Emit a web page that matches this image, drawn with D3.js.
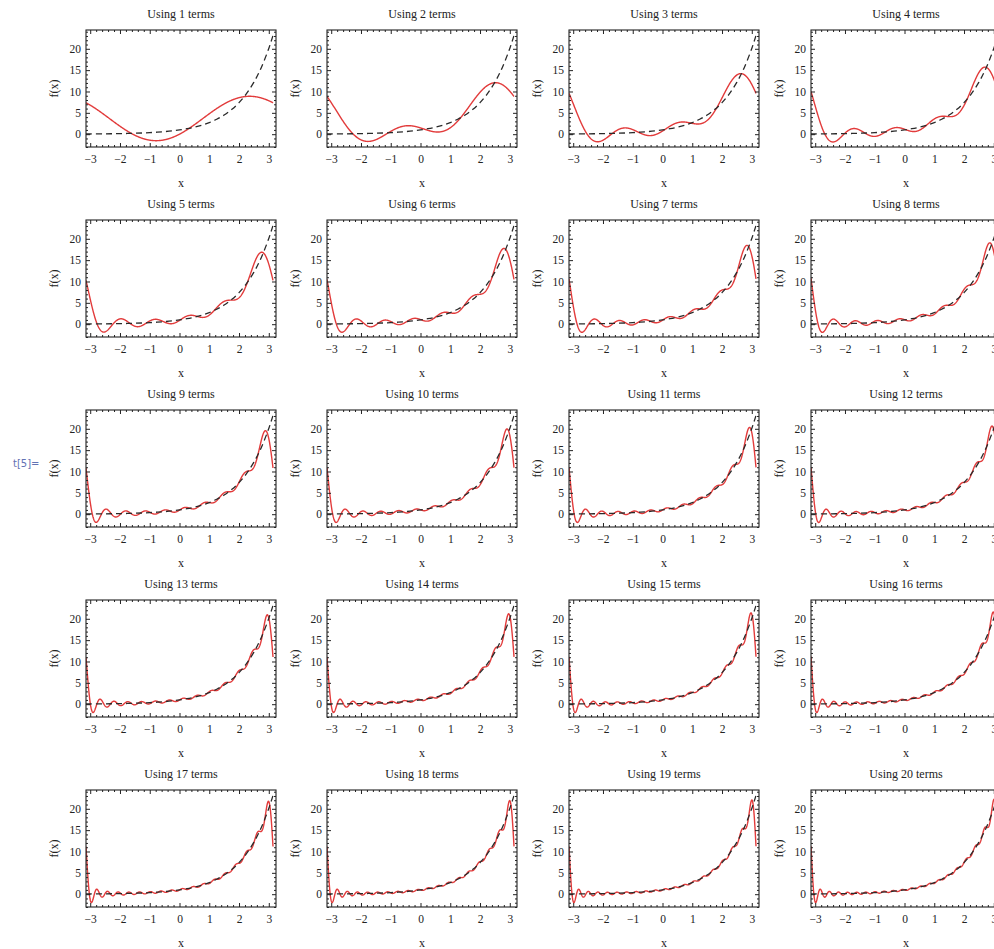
<!DOCTYPE html>
<html><head><meta charset="utf-8">
<script src="https://cdn.jsdelivr.net/npm/d3@7"></script>
<style>body{margin:0;background:#fff;overflow:hidden}</style>
</head><body>
<svg id="c" width="994" height="949"></svg>
<script>
// ---- data ----
const termCounts = [1,2,3,4,5,6,7,8,9,10,11,12,13,14,15,16,17,18,19,20];
// Fourier coefficients of the series (constant term, cosine a_n, sine b_n for n = 1..20)
const constTerm = 3.676078;
const cosCoef = [-3.676078, 1.470431, -0.735216, 0.432480, -0.282775, 0.198707, -0.147043, 0.113110,
  -0.089661, 0.072794, -0.060264, 0.050705, -0.043248, 0.037321, -0.032532, 0.028608,
  -0.025352, 0.022622, -0.020310, 0.018335];
const sinCoef = [3.676078, -2.940862, 2.205647, -1.729919, 1.413876, -1.192242, 1.029302, -0.904880,
  0.806949, -0.727936, 0.662903, -0.608460, 0.562224, -0.522494, 0.487980, -0.457728,
  0.430984, -0.407196, 0.385890, -0.366700];
// target function (dashed curve) sampled values
const targetX = [-3.1416,-3.0,-2.75,-2.5,-2.25,-2.0,-1.75,-1.5,-1.25,-1.0,-0.75,-0.5,-0.25,0,
  0.25,0.5,0.75,1.0,1.25,1.5,1.75,2.0,2.25,2.5,2.75,3.0,3.1416];
const targetY = [0.0432,0.0498,0.0639,0.0821,0.1054,0.1353,0.1738,0.2231,0.2865,0.3679,0.4724,0.6065,0.7788,1.0,
  1.2840,1.6487,2.1170,2.7183,3.4903,4.4817,5.7546,7.3891,9.4877,12.1825,15.6426,20.0855,23.1407];
const xTicks = [-3,-2,-1,0,1,2,3];
const yTicks = [0,5,10,15,20];
const xDomain = [-Math.PI, Math.PI];
const yDomain = [-3, 24.4];

// ---- layout ----
const colLeft = [86, 327, 569, 811];
const rowTop = [30, 220, 410, 600, 790];
const W = 190, H = 117, XR = 187;
const serif = "'Liberation Serif','Times New Roman',serif";
const svg = d3.select("#c");

svg.append("text").attr("x", 13).attr("y", 467)
  .attr("font-family", "'DejaVu Sans',sans-serif").attr("font-size", 10)
  .attr("fill", "#6272b4").text("t[5]=");

const fmt = d => d < 0 ? "\u2212" + Math.abs(d) : String(d);

termCounts.forEach((n, i) => {
  const col = i % 4, row = Math.floor(i / 4);
  const g = svg.append("g").attr("transform", `translate(${colLeft[col]},${rowTop[row]})`);
  const x = d3.scaleLinear().domain(xDomain).range([0, XR]);
  const y = d3.scaleLinear().domain(yDomain).range([H, 0]);

  const clipId = "clip" + i;
  g.append("clipPath").attr("id", clipId).append("rect").attr("width", W).attr("height", H);

  const partial = t => {
    let s = constTerm;
    for (let k = 1; k <= n; k++) s += cosCoef[k-1] * Math.cos(k * t) + sinCoef[k-1] * Math.sin(k * t);
    return s;
  };
  const samples = d3.range(0, 601).map(j => xDomain[0] + (xDomain[1] - xDomain[0]) * j / 600);
  const line = d3.line().x(d => x(d[0])).y(d => y(d[1]));

  const plot = g.append("g").attr("clip-path", `url(#${clipId})`);
  plot.append("path").datum(samples.map(t => [t, partial(t)]))
    .attr("d", line).attr("fill", "none").attr("stroke", "#e23b3b").attr("stroke-width", 1.4);
  plot.append("path").datum(targetX.map((t, j) => [t, targetY[j]]))
    .attr("d", line.curve(d3.curveNatural)).attr("fill", "none").attr("stroke", "#2a2a2a")
    .attr("stroke-width", 1.3).attr("stroke-dasharray", "6,4");

  const xMinor = x.ticks(30).filter(v => Math.abs(v - Math.round(v)) > 1e-6);
  const yMinor = y.ticks(27).filter(v => v % 5 !== 0);

  const styleAxis = sel => {
    sel.select(".domain").remove();
    sel.selectAll(".tick line").attr("stroke", "#222");
    sel.selectAll(".tick text").attr("fill", "#222").attr("font-family", serif).attr("font-size", 11.5);
  };
  // labelled major axes
  g.append("g").attr("transform", `translate(0,${H})`)
    .call(d3.axisBottom(x).tickValues(xTicks).tickSizeInner(-4).tickSizeOuter(0).tickPadding(8).tickFormat(fmt))
    .call(styleAxis);
  g.append("g")
    .call(d3.axisLeft(y).tickValues(yTicks).tickSizeInner(-4).tickSizeOuter(0).tickPadding(5).tickFormat(fmt))
    .call(styleAxis);
  // unlabelled major axes on top/right
  g.append("g").call(d3.axisTop(x).tickValues(xTicks).tickSizeInner(-4).tickSizeOuter(0).tickFormat("")).call(styleAxis);
  g.append("g").attr("transform", `translate(${W},0)`)
    .call(d3.axisRight(y).tickValues(yTicks).tickSizeInner(-4).tickSizeOuter(0).tickFormat("")).call(styleAxis);
  // minor ticks
  g.append("g").attr("transform", `translate(0,${H})`)
    .call(d3.axisBottom(x).tickValues(xMinor).tickSizeInner(-2).tickSizeOuter(0).tickFormat("")).call(styleAxis);
  g.append("g").call(d3.axisTop(x).tickValues(xMinor).tickSizeInner(-2).tickSizeOuter(0).tickFormat("")).call(styleAxis);
  g.append("g").call(d3.axisLeft(y).tickValues(yMinor).tickSizeInner(-2).tickSizeOuter(0).tickFormat("")).call(styleAxis);
  g.append("g").attr("transform", `translate(${W},0)`)
    .call(d3.axisRight(y).tickValues(yMinor).tickSizeInner(-2).tickSizeOuter(0).tickFormat("")).call(styleAxis);

  // frame
  g.append("rect").attr("width", W).attr("height", H).attr("fill", "none")
    .attr("stroke", "#222").attr("stroke-width", 1.1);

  // texts
  g.append("text").attr("x", W / 2).attr("y", -12).attr("text-anchor", "middle")
    .attr("font-family", serif).attr("font-size", 12).attr("fill", "#222").text(`Using ${n} terms`);
  g.append("text").attr("transform", `translate(-32,${H / 2}) rotate(-90)`)
    .attr("text-anchor", "middle").attr("dominant-baseline", "central")
    .attr("font-family", serif).attr("font-size", 12).attr("fill", "#222").text("f(x)");
  g.append("text").attr("x", W / 2).attr("y", H + 40).attr("text-anchor", "middle")
    .attr("font-family", serif).attr("font-size", 12).attr("fill", "#222").text("x");
});
</script>
</body></html>
